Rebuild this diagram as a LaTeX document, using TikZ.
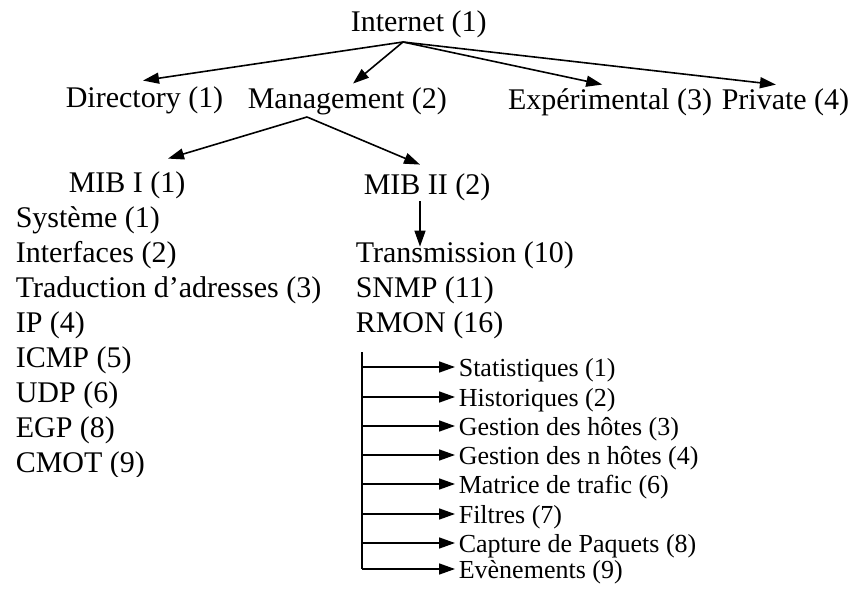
\documentclass[tikz,border=0pt]{standalone}
\usepackage{fontspec}
\setmainfont{Liberation Serif}
\usepackage{tikz}
\usetikzlibrary{arrows.meta,calc,positioning}

\begin{document}
\begin{tikzpicture}[x=1pt,y=-1pt,line width=1.6pt,
  arr/.style={-{Triangle[length=16pt,width=11pt]}},
  big/.style={font=\fontsize{30}{36}\selectfont,inner sep=0pt,anchor=west},
  small/.style={font=\fontsize{26}{30}\selectfont,inner sep=0pt,anchor=west}]
  \useasboundingbox (0,0) rectangle (860,602);
  % top level
  \node[big] (internet) at (350,24) {Internet (1)};
  \coordinate (hub) at (403,42);
  \node[big] (directory) at (65,100) {Directory (1)};
  \node[big] (management) at (247,101) {Management (2)};
  \node[big,anchor=east] (private) at (850,102) {Private (4)};
  \node[big,anchor=east] (experimental) at ([xshift=-8pt]private.west) {Expérimental (3)};
  \draw[arr] (hub) -- ([xshift=78pt,yshift=5pt]directory.north west);
  \draw[arr] (hub) -- ([xshift=106pt,yshift=3pt]management.north west);
  \draw[arr] (hub) -- ([xshift=95pt,yshift=3pt]experimental.north west);
  \draw[arr] (hub) -- ([xshift=55pt,yshift=3pt]private.north west);
  % management
  \coordinate (mgt) at (307,117);
  \node[big] (mibone) at (68,185) {MIB I (1)};
  \node[big] (mibtwo) at (363,187) {MIB II (2)};
  \draw[arr] (mgt) -- ([xshift=100pt,yshift=12pt]mibone.north west);
  \draw[arr] (mgt) -- ([xshift=57pt,yshift=8pt]mibtwo.north west);
  % MIB I
  \node[big] (systeme) at (15,220) {Système (1)};
  \node[big] (interfaces) at (15,255) {Interfaces (2)};
  \node[big] (traduction) at (15,290) {Traduction d’adresses (3)};
  \node[big] (ip) at (15,325) {IP (4)};
  \node[big] (icmp) at (15,360) {ICMP (5)};
  \node[big] (udp) at (15,395) {UDP (6)};
  \node[big] (egp) at (15,430) {EGP (8)};
  \begin{scope}
    \clip (0,440) rectangle (300,476);
    \node[big] (cmot) at (15,465) {CMOT (9)};
  \end{scope}
  % MIB II
  \node[big] (transmission) at (355,255) {Transmission (10)};
  \node[big] (snmp) at (355,290) {SNMP (11)};
  \node[big] (rmon) at (355,325) {RMON (16)};
  \draw[arr] ([xshift=57pt]mibtwo.south west) -- ([xshift=65pt,yshift=-6pt]transmission.north west);
  % RMON groups
  \coordinate (trunk) at (362,352);
  \node[small] (stat) at (458,370) {Statistiques (1)};
  \node[small] (hist) at (458,400) {Historiques (2)};
  \node[small] (hosts) at (458,429) {Gestion des hôtes (3)};
  \node[small] (nhosts) at (458,458) {Gestion des n hôtes (4)};
  \node[small] (matrix) at (458,487) {Matrice de trafic (6)};
  \node[small] (filters) at (458,517) {Filtres (7)};
  \node[small] (capture) at (458,546) {Capture de Paquets (8)};
  \node[small] (events) at (458,572) {Evènements (9)};
  \draw (trunk) -- ([yshift=3pt]trunk |- events.west);
  \draw[arr] ([yshift=3pt]trunk |- stat.west) -- ([xshift=-3pt,yshift=3pt]stat.west);
  \draw[arr] ([yshift=3pt]trunk |- hist.west) -- ([xshift=-3pt,yshift=3pt]hist.west);
  \draw[arr] ([yshift=3pt]trunk |- hosts.west) -- ([xshift=-3pt,yshift=3pt]hosts.west);
  \draw[arr] ([yshift=3pt]trunk |- nhosts.west) -- ([xshift=-3pt,yshift=3pt]nhosts.west);
  \draw[arr] ([yshift=3pt]trunk |- matrix.west) -- ([xshift=-3pt,yshift=3pt]matrix.west);
  \draw[arr] ([yshift=3pt]trunk |- filters.west) -- ([xshift=-3pt,yshift=3pt]filters.west);
  \draw[arr] ([yshift=3pt]trunk |- capture.west) -- ([xshift=-3pt,yshift=3pt]capture.west);
  \draw[arr] ([yshift=3pt]trunk |- events.west) -- ([xshift=-3pt,yshift=3pt]events.west);
\end{tikzpicture}
\end{document}
